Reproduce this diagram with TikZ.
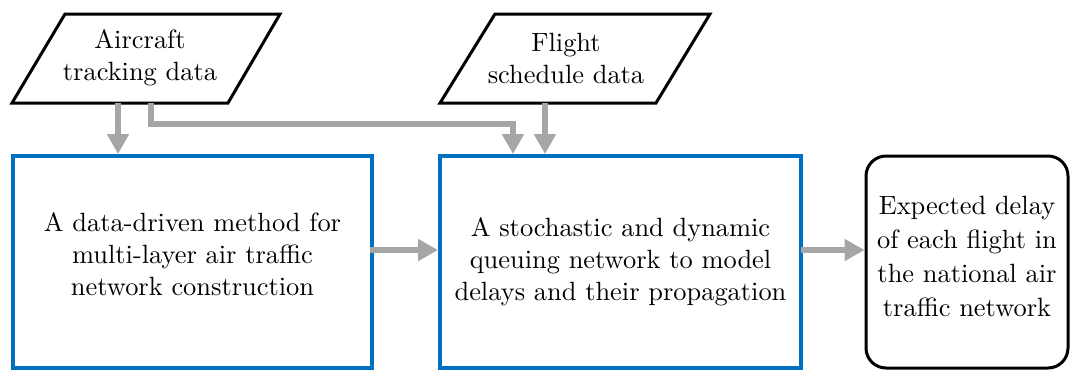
\documentclass[tikz,border=0pt]{standalone}
\usepackage{fontspec}
\newfontfamily\diagfont{lmroman10-regular}[Extension=.otf]
\usetikzlibrary{arrows.meta}
\definecolor{boxblue}{RGB}{0,112,192}
\definecolor{flowgray}{RGB}{166,166,166}
\tikzset{
  txt/.style={font=\diagfont\fontsize{26.4}{32}\selectfont, align=center, inner sep=0pt},
  outtxt/.style={font=\diagfont\fontsize{26.4}{34}\selectfont, align=center, inner sep=0pt},
  procbox/.style={draw=boxblue, line width=4pt, inner sep=0pt, txt},
  outbox/.style={draw=black, line width=3pt, rounded corners=20pt, inner sep=0pt},
  datashape/.style={draw=black, line width=3pt, line join=miter},
  flow/.style={draw=flowgray, line width=6.5pt,
    -{Triangle[length=20pt,width=21pt]}}
}
\begin{document}
\begin{tikzpicture}[x=1pt, y=-1pt]
\useasboundingbox (0,0) rectangle (1071,370);

% input data (parallelograms)
\draw[datashape] (65,14) -- (280,14) -- (228,103) -- (12,103) -- cycle;
\node[txt] (track) at (140,58) {Aircraft\\tracking data};
\coordinate (trackA) at (118,103);
\coordinate (trackB) at (151,103);

\draw[datashape] (495,14) -- (710,14) -- (656,103) -- (440,103) -- cycle;
\node[txt] (sched) at (566,58) {Flight\\schedule data};
\coordinate (schedA) at (545,103);

% processing stages
\node[procbox, minimum width=359pt, minimum height=212pt] (net) at (192.5,262) {};
\node[txt] (netlbl) at (192.5,254) {A data-driven method for\\multi-layer air traffic\\network construction};

\node[procbox, minimum width=361pt, minimum height=212pt] (queue) at (620.5,262)
  {A stochastic and dynamic\\queuing network to model\\delays and their propagation};

% result
\node[outbox, minimum width=202pt, minimum height=212pt] (delay) at (967,262) {};
\node[outtxt] (delaylbl) at (967,256)
  {Expected delay\\of each flight in\\the national air\\traffic network};

% connectors
\coordinate (row) at (0,250);
\draw[flow] (trackA) -- (trackA |- net.north);
\draw[flow] (trackB) -- ++(0,21) -| ([xshift=-32pt]schedA |- queue.north);
\draw[flow] (schedA) -- (schedA |- queue.north);
\draw[flow] ([xshift=-4pt]net.east |- row) -- (queue.west |- row);
\draw[flow] ([xshift=-2pt]queue.east |- row) -- (delay.west |- row);
\end{tikzpicture}
\end{document}
